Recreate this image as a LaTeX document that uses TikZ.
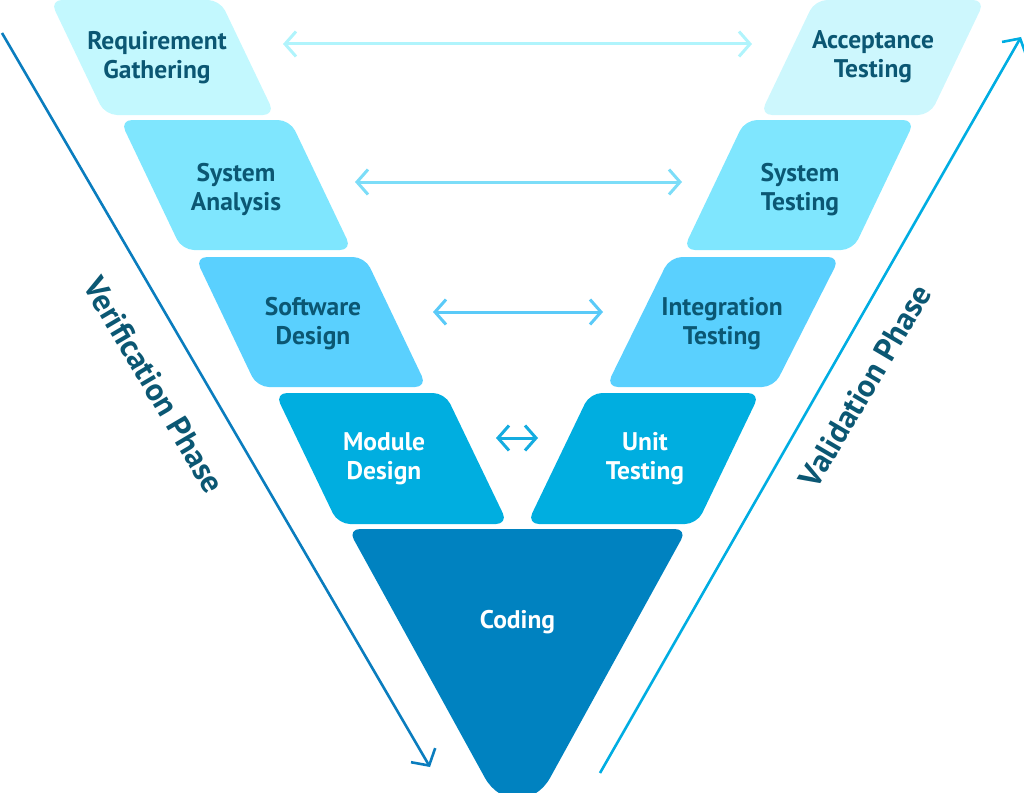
\documentclass[tikz,border=0pt]{standalone}
\usepackage{fontspec}
\setmainfont{PT Sans}
\usetikzlibrary{arrows.meta}

\definecolor{txtdark}{HTML}{0B5773}
\definecolor{reqfill}{HTML}{C3F8FE}
\definecolor{accfill}{HTML}{CDF7FD}
\definecolor{rowtwo}{HTML}{7FE6FE}
\definecolor{rowthree}{HTML}{5AD0FE}
\definecolor{rowfour}{HTML}{00AEE0}
\definecolor{codefill}{HTML}{0082C0}
\definecolor{arrowone}{HTML}{B0F4FC}
\definecolor{arrowtwo}{HTML}{7CDDF8}
\definecolor{arrowthree}{HTML}{5ACAF8}
\definecolor{arrowfour}{HTML}{14ACE0}
\definecolor{verline}{HTML}{0A7DBE}
\definecolor{valline}{HTML}{00ADE2}

\begin{document}
\begin{tikzpicture}[x=1pt, y=-1pt,
    stage/.style={rounded corners=12pt},
    stagetext/.style={align=center, text=txtdark, font=\fontsize{25.5}{29}\selectfont\bfseries},
    link/.style={line width=3pt, {Straight Barb[length=11pt,width=25pt]}-{Straight Barb[length=11pt,width=25pt]}},
    phase/.style={line width=2.6pt, -{Straight Barb[length=12pt,width=28pt]}},
    phasetext/.style={text=txtdark, font=\fontsize{32}{36}\selectfont\bfseries}
]
    \useasboundingbox (0,0) rectangle (1024,792);
    \clip (0,0) rectangle (1024,792);

    % verification side
    \fill[stage, reqfill] (50,0) -- (220,0) -- (275,115) -- (105,115) -- cycle;
    \fill[stage, rowtwo] (120,120) -- (290,120) -- (352,250) -- (182,250) -- cycle;
    \fill[stage, rowthree] (195,257) -- (365,257) -- (427,387) -- (257,387) -- cycle;
    \fill[stage, rowfour] (275,393) -- (445,393) -- (508,524) -- (338,524) -- cycle;

    % validation side
    \fill[stage, accfill] (815,0) -- (985,0) -- (930,115) -- (760,115) -- cycle;
    \fill[stage, rowtwo] (745,120) -- (915,120) -- (853,250) -- (683,250) -- cycle;
    \fill[stage, rowthree] (670,257) -- (840,257) -- (774,387) -- (606,387) -- cycle;
    \fill[stage, rowfour] (590,393) -- (760,393) -- (697,524) -- (527,524) -- cycle;

    % coding at the bottom of the V
    \fill[stage, codefill] (517.5,529) -- (687,529) -- (556.1,766.9)
        .. controls (534.8,805.6) and (500.2,805.6) .. (478.9,766.9) -- (348,529) -- cycle;

    \node[stagetext] (reqgath) at (157,58) {Requirement\\Gathering};
    \node[stagetext] (sysana) at (236,190) {System\\Analysis};
    \node[stagetext] (swdes) at (313,324) {Software\\Design};
    \node[stagetext, text=white] (moddes) at (384,459) {Module\\Design};
    \node[stagetext] (acctest) at (873,57) {Acceptance\\Testing};
    \node[stagetext] (systest) at (800,190) {System\\Testing};
    \node[stagetext] (inttest) at (722,324) {Integration\\Testing};
    \node[stagetext, text=white] (unittest) at (645,459) {Unit\\Testing};
    \node[stagetext, text=white] (coding) at (517.5,622) {Coding};

    % links between matching levels
    \coordinate (linkoneL) at (283,44);
    \coordinate (linkoneR) at (752,44);
    \coordinate (linktwoL) at (355,182);
    \coordinate (linktwoR) at (682,182);
    \coordinate (linkthreeL) at (433,312);
    \coordinate (linkthreeR) at (603,312);
    \coordinate (linkfourL) at (496,438);
    \coordinate (linkfourR) at (538,438);
    \draw[link, arrowone] (linkoneL) -- (linkoneR);
    \draw[link, arrowtwo] (linktwoL) -- (linktwoR);
    \draw[link, arrowthree] (linkthreeL) -- (linkthreeR);
    \draw[link, arrowfour] (linkfourL) -- (linkfourR);

    % phase arrows
    \coordinate (verstart) at (2,33);
    \coordinate (verend) at (430,767);
    \coordinate (valstart) at (600,773);
    \coordinate (valend) at (1021,37);
    \draw[phase, verline] (verstart) -- (verend);
    \draw[phase, valline] (valstart) -- (valend);

    \node[phasetext, rotate=-59.5] (verphase) at (154,385) {Verification Phase};
    \node[phasetext, rotate=59.5] (valphase) at (865,386) {Validation Phase};
\end{tikzpicture}
\end{document}
